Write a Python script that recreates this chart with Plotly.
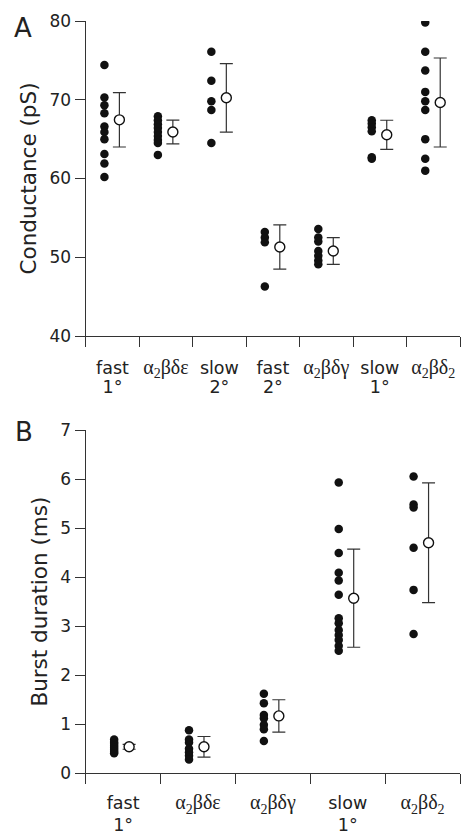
import plotly.graph_objects as go

# ---------------- data ----------------
# Panel A: conductance (pS)
a_line1 = ["fast", "α<sub>2</sub>βδε", "slow", "fast", "α<sub>2</sub>βδγ", "slow", "α<sub>2</sub>βδ<sub>2</sub>"]
a_line2 = ["1°", "", "2°", "2°", "", "1°", ""]
a_fast1 = [74.4, 70.3, 69.3, 68.3, 66.6, 65.9, 65.0, 63.1, 61.9, 60.2]
a_abde = [67.9, 67.4, 66.9, 66.4, 65.9, 65.4, 64.9, 64.5, 63.0]
a_slow2 = [76.1, 72.4, 69.8, 68.7, 64.5]
a_fast2 = [53.2, 52.5, 51.9, 46.3]
a_abdg = [53.6, 52.5, 52.0, 50.8, 50.2, 49.6, 49.1]
a_slow1 = [67.4, 67.0, 66.5, 66.0, 62.7, 62.5]
a_abd2 = [79.8, 76.1, 73.7, 71.0, 69.8, 68.7, 65.0, 62.5, 61.0]
a_groups = [a_fast1, a_abde, a_slow2, a_fast2, a_abdg, a_slow1, a_abd2]
a_means = [67.45, 65.9, 70.25, 51.3, 50.8, 65.55, 69.65]
a_err = [3.45, 1.5, 4.35, 2.8, 1.7, 1.85, 5.65]
a_yticks = [40, 50, 60, 70, 80]

# Panel B: burst duration (ms)
b_line1 = ["fast", "α<sub>2</sub>βδε", "α<sub>2</sub>βδγ", "slow", "α<sub>2</sub>βδ<sub>2</sub>"]
b_line2 = ["1°", "", "", "1°", ""]
b_fast1 = [0.69, 0.64, 0.60, 0.56, 0.52, 0.48, 0.44, 0.41]
b_abde = [0.88, 0.69, 0.63, 0.50, 0.43, 0.36, 0.28]
b_abdg = [1.62, 1.43, 1.19, 1.12, 0.99, 0.90, 0.66]
b_slow1 = [5.93, 4.98, 4.49, 4.09, 3.93, 3.64, 3.16, 3.06, 2.92, 2.82, 2.72, 2.60, 2.50]
b_abd2 = [6.05, 5.48, 5.42, 4.60, 3.74, 2.84]
b_groups = [b_fast1, b_abde, b_abdg, b_slow1, b_abd2]
b_means = [0.54, 0.54, 1.17, 3.57, 4.70]
b_err = [0.05, 0.21, 0.33, 1.00, 1.22]
b_yticks = [0, 1, 2, 3, 4, 5, 6, 7]

# ---------------- style ----------------
FONT = "DejaVu Sans"
GREEK = "Liberation Serif"
INK = "#222222"
AX = "#333333"
W, H = 463, 840


def greekify(lbl):
    if "α" in lbl:
        return f"<span style=\"font-family:'{GREEK}', serif;font-size:20px\">{lbl}</span>"
    return lbl


fig = go.Figure()


def add_panel(groups, means, errs, xa, ya, xa_top, dot_off, mean_off):
    xs, ys = [], []
    for i, g in enumerate(groups):
        xs += [i + dot_off] * len(g)
        ys += g
    fig.add_trace(go.Scatter(x=xs, y=ys, mode="markers", xaxis=xa, yaxis=ya,
                             marker=dict(size=8.5, color="#111111"),
                             showlegend=False, hoverinfo="skip"))
    fig.add_trace(go.Scatter(x=[i + mean_off for i in range(len(means))], y=means,
                             mode="markers", xaxis=xa_top, yaxis=ya,
                             marker=dict(size=10, color="white", line=dict(color="#111111", width=1.4)),
                             error_y=dict(type="data", array=errs, visible=True,
                                          color=AX, thickness=1.2, width=6.5),
                             showlegend=False, hoverinfo="skip"))


add_panel(a_groups, a_means, a_err, "x", "y", "x3", -0.15, 0.13)
add_panel(b_groups, b_means, b_err, "x2", "y2", "x4", -0.12, 0.08)

xdom = [85.7 / W, 460 / W]
ydomA = [1 - 336 / H, 1 - 21 / H]
ydomB = [1 - 773.3 / H, 1 - 430 / H]

tickfont = dict(family=FONT, size=17, color=INK)
catfont = dict(family=FONT, size=17.5, color=INK)


def main_x(n, labels, standoff):
    return dict(domain=xdom, range=[-0.5, n - 0.5], tickmode="array", automargin=False,
                tickvals=list(range(n)), ticktext=[greekify(l) for l in labels],
                ticks="outside", ticklen=10, tickcolor="rgba(0,0,0,0)",
                ticklabelstandoff=standoff,
                showline=True, linecolor=AX, linewidth=1.3, showgrid=False, zeroline=False,
                tickfont=catfont,
                minor=dict(tickmode="array", tickvals=[k - 0.5 for k in range(n + 1)],
                           ticks="outside", ticklen=10, tickcolor=AX, tickwidth=1.3, showgrid=False))


def overlay_x(labels, over, anchor, standoff):
    idx = [i for i, t in enumerate(labels) if t]
    return dict(overlaying=over, matches=over, anchor=anchor, side="bottom", automargin=False,
                tickmode="array", tickvals=idx, ticktext=[labels[i] for i in idx],
                ticks="outside", ticklen=10, tickcolor="rgba(0,0,0,0)",
                ticklabelstandoff=standoff, showline=False, showgrid=False, zeroline=False,
                tickfont=catfont)


def main_y(dom, rng, vals, anchor, title):
    return dict(domain=dom, range=rng, anchor=anchor, tickmode="array", tickvals=vals,
                automargin=False,
                ticks="outside", ticklen=10, tickcolor=AX, tickwidth=1.3,
                showline=True, linecolor=AX, linewidth=1.3, showgrid=False, zeroline=False,
                tickfont=tickfont,
                title=dict(text=title, font=dict(family=FONT, size=21.5, color=INK), standoff=6))


fig.update_layout(
    width=W, height=840, autosize=False,
    margin=dict(l=0, r=0, t=0, b=0, pad=0),
    paper_bgcolor="white", plot_bgcolor="white",
    font=dict(family=FONT, color=INK),
    xaxis=dict(anchor="y", **main_x(7, a_line1, 6)),
    xaxis3=overlay_x(a_line2, "x", "y", 25),
    yaxis=main_y(ydomA, [40, 80], a_yticks, "x", "Conductance (pS)"),
    xaxis2=dict(anchor="y2", **main_x(5, b_line1, 4)),
    xaxis4=overlay_x(b_line2, "x2", "y2", 26),
    yaxis2=main_y(ydomB, [0, 7], b_yticks, "x2", "Burst duration (ms)"),
    annotations=[
        dict(text="A", x=23 / W, y=1 - 28 / H, xref="paper", yref="paper",
             xanchor="center", yanchor="middle",
             showarrow=False, font=dict(family=FONT, size=26, color=INK)),
        dict(text="B", x=23.5 / W, y=1 - 432.5 / H, xref="paper", yref="paper",
             xanchor="center", yanchor="middle",
             showarrow=False, font=dict(family=FONT, size=26, color=INK)),
    ],
)

fig.write_html("out.html")
